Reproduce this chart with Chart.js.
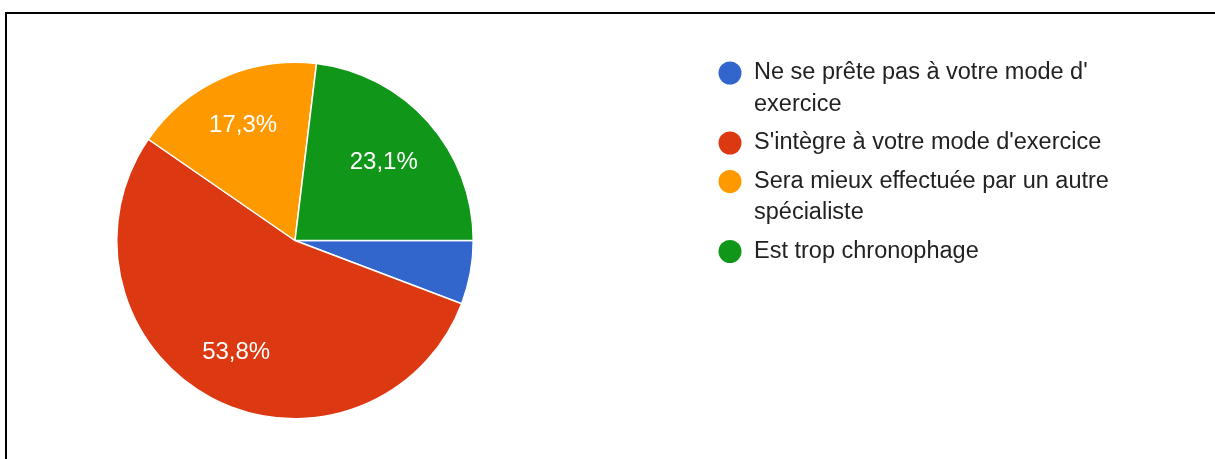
<!DOCTYPE html>
<html>
<head>
<meta charset="utf-8">
<script src="https://cdn.jsdelivr.net/npm/chart.js@4"></script>
<style>
    body { margin: 0; background: #fff; }
    #wrap { position: relative; width: 1215px; height: 459px; }
    #frame {
        position: absolute; left: 5px; top: 12px; right: 0; bottom: 0;
        border-top: 2px solid #000; border-left: 2px solid #000;
        pointer-events: none;
    }
</style>
</head>
<body>
<div id="wrap">
    <canvas id="pieChart" width="1215" height="459"></canvas>
    <div id="frame"></div>
</div>
<script>
// answers (legend lines as they wrap in the picture)
const categories = [
    ["Ne se prête pas à votre mode d'", "exercice"],
    ["S'intègre à votre mode d'exercice"],
    ["Sera mieux effectuée par un autre", "spécialiste"],
    ["Est trop chronophage"]
];
// number of answers per category
const counts = [3, 28, 9, 12];
const colors = ['#3366cc', '#dc3912', '#ff9900', '#109618'];

const FONT = "'Liberation Sans', Arial, sans-serif";

// white percent labels inside the slices
const sliceLabels = {
    id: 'sliceLabels',
    afterDatasetsDraw(chart) {
        const ctx = chart.ctx;
        const meta = chart.getDatasetMeta(0);
        const values = chart.data.datasets[0].data;
        const total = values.reduce((a, b) => a + b, 0);
        ctx.save();
        ctx.font = '24px ' + FONT;
        ctx.fillStyle = '#ffffff';
        ctx.textAlign = 'center';
        ctx.textBaseline = 'middle';
        meta.data.forEach((arc, i) => {
            const pct = values[i] / total * 100;
            if (pct < 10) return;
            const p = arc.getProps(['x', 'y', 'startAngle', 'endAngle', 'outerRadius'], true);
            const mid = (p.startAngle + p.endAngle) / 2;
            // big slices get their label a bit further out
            const r = p.outerRadius * (pct > 20 && pct < 30 ? 0.665 : 0.71);
            ctx.fillText(pct.toFixed(1).replace('.', ',') + '%', p.x + Math.cos(mid) * r, p.y + Math.sin(mid) * r);
        });
        ctx.restore();
    }
};

// legend on the right, with wrapped lines
const sideLegend = {
    id: 'sideLegend',
    afterDraw(chart) {
        const ctx = chart.ctx;
        const bg = chart.data.datasets[0].backgroundColor;
        const lineH = 31.5;
        const gap = 38.5;
        let y = 73;
        ctx.save();
        ctx.font = '23.5px ' + FONT;
        ctx.textBaseline = 'middle';
        ctx.textAlign = 'left';
        chart.data.labels.forEach((lines, i) => {
            ctx.fillStyle = bg[i];
            ctx.beginPath();
            ctx.arc(730, y, 11.5, 0, Math.PI * 2);
            ctx.fill();
            ctx.fillStyle = '#222222';
            lines.forEach((line, j) => {
                ctx.fillText(line, 754, y + j * lineH);
            });
            y += (lines.length - 1) * lineH + gap;
        });
        ctx.restore();
    }
};

const config = {
    type: 'pie',
    data: {
        labels: categories,
        datasets: [{
            data: counts,
            backgroundColor: colors,
            borderColor: '#ffffff',
            borderWidth: 1.5
        }]
    },
    options: {
        responsive: false,
        animation: false,
        rotation: 90,
        layout: {
            padding: { left: 116, top: 61, right: 741, bottom: 39 }
        },
        plugins: {
            legend: { display: false },
            tooltip: { enabled: false }
        }
    },
    plugins: [sliceLabels, sideLegend]
};

new Chart(document.getElementById('pieChart'), config);
</script>
</body>
</html>
